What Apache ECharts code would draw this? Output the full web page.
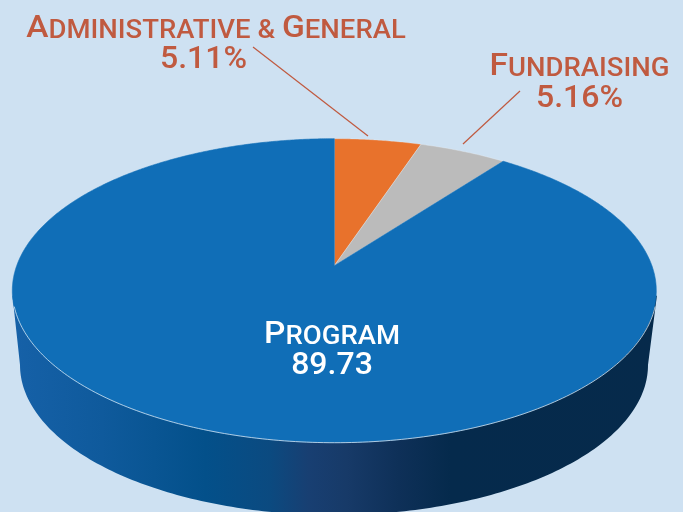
<!DOCTYPE html>
<html><head><meta charset="utf-8">
<style>html,body{margin:0;padding:0;background:#CEE1F2}#c{width:683px;height:512px}</style>
<script src="https://cdn.jsdelivr.net/npm/echarts@6/dist/echarts.min.js"></script>
</head><body><div id="c"></div>
<script>
const categories = ['Administrative & General', 'Fundraising', 'Program'];
const values = [5.11, 5.16, 89.73];
const valueLabels = ['5.11%', '5.16%', '89.73'];
const sliceColors = ['#E8722C', '#BBBBBB', '#106EB7'];

const TEXT = '#C05A40';
const geo = {cx: 334.3, cy: 265.7, a: 317.6, b: 147.9, k: 0.1645};
const rim = {cx: 334.7, cy: 290.7, rx: 322.2, ry: 152};
const base = {cx: 334, cy: 365, rx: 314, ry: 150};

function project(pct) {
  const t = pct / 100 * Math.PI * 2, X = Math.sin(t), Y = -Math.cos(t), w = 1 - geo.k * Y;
  return [geo.cx + geo.a * X / w, geo.cy + geo.b * Y / w];
}
function smallCaps(name, cls) {
  return name.toUpperCase().split(' ').map((word, i) => {
    const orig = name.split(' ')[i];
    if (orig === '&') return `{${cls}s|&}`;
    return `{${cls}c|${word[0]}}{${cls}s|${word.slice(1)}}`;
  }).join(`{${cls}s| }`);
}
const labelSpec = [
  {x: 216, y: 27, vx: 203.5, vy: 60, cls: 't', line: [[253, 47], [368, 136]]},
  {x: 579.5, y: 65, vx: 579.5, vy: 98.5, cls: 't', line: [[520, 91], [463, 144]]},
  {x: 332, y: 333, vx: 332, vy: 365.5, cls: 'w'}
];
function rich(color, key) {
  const r = {};
  r[key + 'c'] = {fontFamily: 'Roboto', fontSize: 30.5, fontWeight: 500, fill: color, lineHeight: 36, verticalAlign: 'bottom'};
  r[key + 's'] = {fontFamily: 'Roboto', fontSize: 25, fontWeight: 500, fill: color, lineHeight: 36, verticalAlign: 'bottom', padding: [0, 0, 1, 0]};
  return r;
}
const wallStops = [[0, '#1661A8'], [0.14, '#0F5A9C'], [0.3, '#03508A'], [0.4, '#0B4A80'], [0.46, '#183F72'], [0.52, '#173A68'], [0.6, '#0E3058'], [0.68, '#052A4C'], [1, '#062A4B']];

function renderItem(params, api) {
  const i = params.dataIndex, start = api.value(0), val = api.value(1), spec = labelSpec[i];
  const children = [];
  if (i === categories.length - 1) {
    const wall = [[rim.cx - rim.rx, rim.cy + 5]];
    for (let d = 180; d >= 0; d -= 1) {
      const r = d * Math.PI / 180;
      wall.push([base.cx + base.rx * Math.cos(r), base.cy + base.ry * Math.sin(r)]);
    }
    wall.push([rim.cx + rim.rx, rim.cy + 5]);
    children.push({type: 'polygon', shape: {points: wall}, style: {fill: {
      type: 'linear', x: 12, y: 0, x2: 657, y2: 0, global: true,
      colorStops: wallStops.map(s => ({offset: s[0], color: s[1]}))
    }}});
  }
  const pts = [[geo.cx, geo.cy]];
  const n = Math.ceil(val * 8);
  for (let j = 0; j <= n; j++) pts.push(project(start + val * j / n));
  children.push({type: 'polygon', shape: {points: pts}, style: {
    fill: sliceColors[i], stroke: i === categories.length - 1 ? sliceColors[i] : 'rgba(235,240,245,0.55)', lineWidth: 0.6}});
  if (i === categories.length - 1) {
    const edge = [];
    for (let d = 6; d <= 174; d += 1) {
      const r = d * Math.PI / 180;
      edge.push([rim.cx + rim.rx * Math.cos(r), rim.cy + rim.ry * Math.sin(r)]);
    }
    children.push({type: 'polyline', shape: {points: edge}, style: {fill: 'none', stroke: 'rgba(225,235,245,0.85)', lineWidth: 0.9}});
  }
  const color = spec.cls === 't' ? TEXT : '#FFFFFF';
  if (spec.line) children.push({type: 'line', shape: {x1: spec.line[0][0], y1: spec.line[0][1], x2: spec.line[1][0], y2: spec.line[1][1]}, style: {stroke: TEXT, lineWidth: 1.2}});
  children.push({type: 'text', z2: 10, x: spec.x, y: spec.y, scaleX: 1.1, style: {x: 0, y: 0, text: smallCaps(categories[i], spec.cls), align: 'center', verticalAlign: 'middle', rich: rich(color, spec.cls)}});
  children.push({type: 'text', z2: 10, style: {x: spec.vx, y: spec.vy, text: valueLabels[i], align: 'center', verticalAlign: 'middle', fontFamily: 'Roboto', fontSize: 32, fontWeight: 500, fill: color}});
  return {type: 'group', children};
}
let acc = 0;
const seriesData = values.map(v => { const d = [acc, v]; acc += v; return d; });
const chart = echarts.init(document.getElementById('c'), null, {renderer: 'canvas'});
chart.setOption({
  animation: false,
  backgroundColor: '#CEE1F2',
  series: [{type: 'custom', coordinateSystem: 'none', renderItem, data: seriesData, clip: false}]
});
</script></body></html>
